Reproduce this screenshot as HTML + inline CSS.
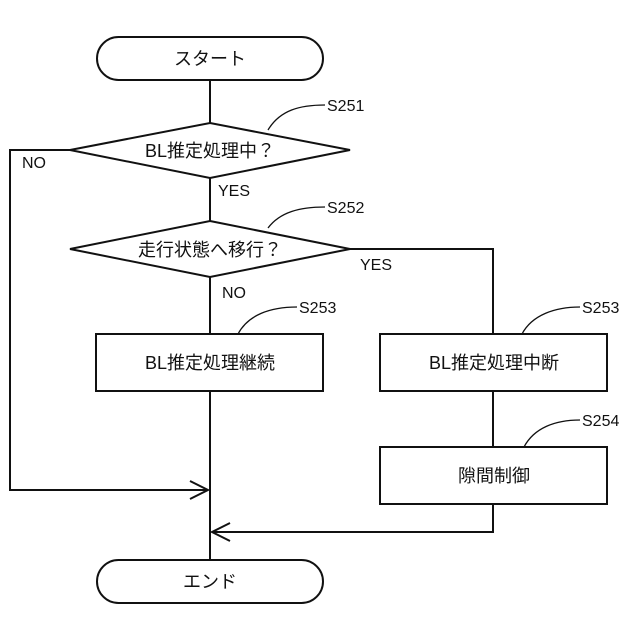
<!DOCTYPE html>
<html><head><meta charset="utf-8"><style>body{margin:0;background:#fff}svg{display:block}</style></head><body>
<svg width="640" height="640" viewBox="0 0 640 640" xmlns="http://www.w3.org/2000/svg" font-family="Liberation Sans, Noto Sans CJK JP, sans-serif" fill="none" stroke="#111" stroke-width="2">
<rect x="97" y="37" width="226" height="43" rx="21.5"/>
<line x1="210" y1="80" x2="210" y2="123"/>
<polygon points="210,123 350,150 210,178 70,150"/>
<line x1="210" y1="178" x2="210" y2="221"/>
<polygon points="210,221 350,249 210,277 70,249"/>
<line x1="210" y1="277" x2="210" y2="334"/>
<polyline points="350,249 493,249 493,334"/>
<rect x="96" y="334" width="227" height="57"/>
<rect x="380" y="334" width="227" height="57"/>
<line x1="493" y1="391" x2="493" y2="447"/>
<rect x="380" y="447" width="227" height="57"/>
<polyline points="70,150 10,150 10,490 208,490"/>
<polyline points="190,481 208,490 190,499"/>
<line x1="210" y1="391" x2="210" y2="560"/>
<polyline points="493,504 493,532 212,532"/>
<polyline points="230,523 212,532 230,541"/>
<rect x="97" y="560" width="226" height="43" rx="21.5"/>
<g stroke-width="1.3">
<path d="M268,130 C280,110 300,105 325,105"/>
<path d="M268,228 C280,212 300,207 325,207"/>
<path d="M238,334 C248,315 270,307 297,307"/>
<path d="M522,334 C532,315 555,307 580,307"/>
<path d="M524,447 C534,428 555,420 580,420"/>
</g>
<g fill="#111" stroke="none" font-size="18" text-anchor="middle">
<text x="210" y="65">スタート</text>
<text x="210" y="157">BL推定処理中？</text>
<text x="210" y="256">走行状態へ移行？</text>
<text x="210" y="369">BL推定処理継続</text>
<text x="494" y="369">BL推定処理中断</text>
<text x="494" y="482">隙間制御</text>
<text x="210" y="588">エンド</text>
</g>
<g fill="#111" stroke="none" font-size="16">
<text x="327" y="111">S251</text>
<text x="327" y="213">S252</text>
<text x="299" y="313">S253</text>
<text x="582" y="313">S253</text>
<text x="582" y="426">S254</text>
<text x="22" y="168">NO</text>
<text x="218" y="196">YES</text>
<text x="360" y="270">YES</text>
<text x="222" y="298">NO</text>
</g>
</svg>
</body></html>
